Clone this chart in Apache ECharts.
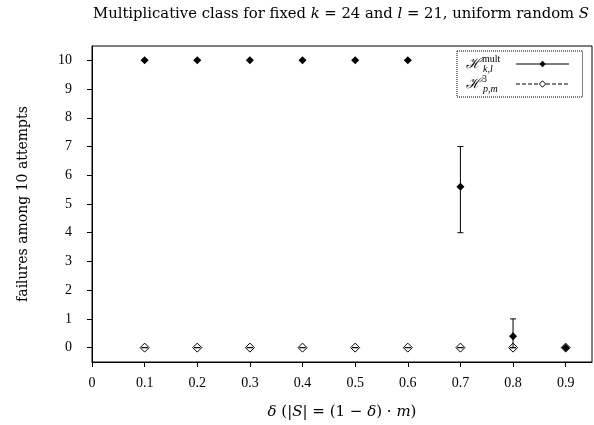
<!DOCTYPE html>
<html>
<head>
<meta charset="utf-8">
<script src="https://cdn.jsdelivr.net/npm/echarts@6/dist/echarts.min.js"></script>
<style>
html,body{margin:0;padding:0;background:#fff;}
#main{width:594px;height:425px;}
</style>
</head>
<body>
<div id="main"></div>
<script>
// delta values (x)
var deltas = [0.1, 0.2, 0.3, 0.4, 0.5, 0.6, 0.7, 0.8, 0.9];
// H^mult_{k,l}: mean failures and error bar ends
var multVals = [10, 10, 10, 10, 10, 10, 5.6, 0.4, 0];
var multLow  = [10, 10, 10, 10, 10, 10, 4, 0, 0];
var multHigh = [10, 10, 10, 10, 10, 10, 7, 1, 0];
// H^3_{p,m}
var p3Vals = [0, 0, 0, 0, 0, 0, 0, 0, 0];
var p3Low  = [0, 0, 0, 0, 0, 0, 0, 0, 0];
var p3High = [0, 0, 0, 0, 0, 0, 0, 0, 0];
// tick labels
var xTicks = [0, 0.1, 0.2, 0.3, 0.4, 0.5, 0.6, 0.7, 0.8, 0.9];
var yTicks = [0, 1, 2, 3, 4, 5, 6, 7, 8, 9, 10];

var serif = '"Liberation Serif", "DejaVu Serif", serif';
var wide = '"DejaVu Serif", serif';

function pts(vals) {
    var out = [];
    for (var i = 0; i < deltas.length; i++) out.push([deltas[i], vals[i]]);
    return out;
}
function errs(low, high) {
    var out = [];
    for (var i = 0; i < deltas.length; i++) out.push([deltas[i], low[i], high[i]]);
    return out;
}

// vertical error bar with small caps
function renderErr(params, api) {
    var lo = api.coord([api.value(0), api.value(1)]);
    var hi = api.coord([api.value(0), api.value(2)]);
    var cap = 3;
    var st = {stroke: '#000', lineWidth: 1};
    return {
        type: 'group',
        children: [
            {type: 'line', shape: {x1: lo[0], y1: lo[1], x2: hi[0], y2: hi[1]}, style: st},
            {type: 'line', shape: {x1: lo[0] - cap, y1: lo[1], x2: lo[0] + cap, y2: lo[1]}, style: st},
            {type: 'line', shape: {x1: hi[0] - cap, y1: hi[1], x2: hi[0] + cap, y2: hi[1]}, style: st}
        ]
    };
}

var myChart = echarts.init(document.getElementById('main'));

var option = {
    animation: false,
    backgroundColor: '#fff',
    title: {
        text: 'Multiplicative class for fixed {i|k} = 24 and {i|l} = 21, uniform random {i|S}',
        left: 93,
        top: 7,
        padding: 0,
        textStyle: {
            fontFamily: wide, fontSize: 14.8, fontWeight: 'normal', color: '#000',
            rich: {i: {fontFamily: wide, fontSize: 14.8, fontStyle: 'italic', color: '#000'}}
        }
    },
    grid: {
        left: 92, right: 2, top: 46, bottom: 63,
        show: true, borderColor: '#000', borderWidth: 1
    },
    legend: {
        orient: 'vertical',
        left: 457, top: 51,
        align: 'right',
        padding: [3, 13, 3, 9],
        itemGap: 0,
        itemWidth: 53, itemHeight: 8,
        borderColor: '#000', borderWidth: 1, borderType: 'dotted',
        backgroundColor: '#fff',
        data: [
            {name: 'mult', lineStyle: {opacity: 1, width: 1, color: '#000', type: 'solid'}},
            {
                name: 'p3',
                lineStyle: {opacity: 1, width: 1, color: '#000', type: 'dashed'},
                itemStyle: {color: '#fff', borderColor: '#000', borderWidth: 1}
            }
        ],
        formatter: function (name) {
            if (name == 'mult') return '{h|ℋ}{sup|mult}{sub|k,l}';
            return '{h|ℋ}{sup|3}{sub|p,m}';
        },
        textStyle: {
            color: '#000', fontFamily: serif,
            rich: {
                h: {fontFamily: wide, fontSize: 14, fontStyle: 'italic', height: 20, align: 'left', verticalAlign: 'middle'},
                sup: {fontFamily: serif, fontSize: 10, width: 0, align: 'left', verticalAlign: 'top', padding: [0, 0, 0, 1]},
                sub: {fontFamily: serif, fontSize: 10, fontStyle: 'italic', width: 28, align: 'left', verticalAlign: 'bottom', padding: [0, 0, 0, 1]}
            }
        }
    },
    xAxis: {
        type: 'value',
        min: 0, max: 0.95,
        name: '{i|δ} (|{i|S}| = (1 − {i|δ}) · {i|m})',
        nameLocation: 'middle',
        nameGap: 43,
        nameTextStyle: {
            fontFamily: wide, fontSize: 15, color: '#000',
            rich: {i: {fontFamily: wide, fontSize: 15, fontStyle: 'italic', color: '#000'}}
        },
        axisLine: {onZero: false, lineStyle: {color: '#000', width: 1}},
        axisTick: {length: 5, lineStyle: {color: '#000'}, customValues: xTicks},
        axisLabel: {
            customValues: xTicks, margin: 14,
            fontFamily: serif, fontSize: 14, color: '#000',
            formatter: function (v) { return String(v); }
        },
        splitLine: {show: false}
    },
    yAxis: {
        type: 'value',
        min: -0.5, max: 10.5,
        name: 'failures among 10 attempts',
        nameLocation: 'middle',
        nameGap: 62,
        nameTextStyle: {fontFamily: wide, fontSize: 14, color: '#000'},
        axisLine: {show: true, onZero: false, lineStyle: {color: '#000', width: 1}},
        axisTick: {show: true, length: 5, lineStyle: {color: '#000'}, customValues: yTicks},
        axisLabel: {
            customValues: yTicks, margin: 20,
            fontFamily: serif, fontSize: 14, color: '#000'
        },
        splitLine: {show: false}
    },
    series: [
        {
            name: 'mult',
            type: 'line',
            data: pts(multVals),
            symbol: 'diamond',
            symbolSize: 8,
            z: 5,
            lineStyle: {opacity: 0},
            itemStyle: {color: '#000'}
        },
        {
            name: 'p3',
            type: 'line',
            data: pts(p3Vals),
            symbol: 'diamond',
            symbolSize: 9,
            z: 3,
            lineStyle: {opacity: 0, type: 'dashed'},
            itemStyle: {color: 'rgba(255,255,255,0)', borderColor: '#000', borderWidth: 1}
        },
        {
            type: 'custom',
            data: errs(multLow, multHigh),
            renderItem: renderErr,
            encode: {x: 0, y: [1, 2]},
            z: 4
        },
        {
            type: 'custom',
            data: errs(p3Low, p3High),
            renderItem: renderErr,
            encode: {x: 0, y: [1, 2]},
            z: 2
        }
    ]
};

myChart.setOption(option);
</script>
</body>
</html>
